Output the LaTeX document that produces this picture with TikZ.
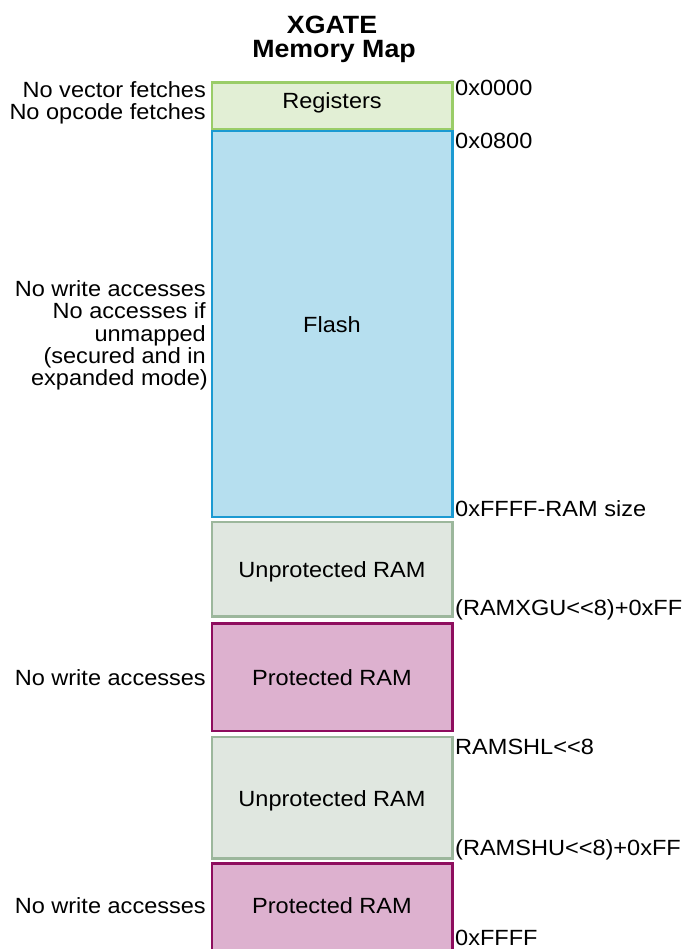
\documentclass[tikz,border=0pt]{standalone}
\usepackage{fontspec}
\setmainfont{Liberation Sans}[FakeStretch=1.07]
\usepackage{tikz}

\definecolor{regfill}{HTML}{E2EFD5}
\definecolor{regdraw}{HTML}{9ACD68}
\definecolor{flashfill}{HTML}{B6DFEF}
\definecolor{flashdraw}{HTML}{1B9AD2}
\definecolor{unpfill}{HTML}{E0E7E0}
\definecolor{unpdraw}{HTML}{9CB79C}
\definecolor{protfill}{HTML}{DDB1CF}
\definecolor{protdraw}{HTML}{8E0D5E}

\begin{document}
\begin{tikzpicture}[x=1pt,y=-1pt,
    lbl/.style={inner sep=0pt,font=\fontsize{22}{24}\selectfont},
    ttl/.style={inner sep=0pt,anchor=base,font=\fontsize{25}{27}\selectfont\bfseries},
    addr/.style={lbl,anchor=base west},
    note/.style={lbl,anchor=base east},
    blk/.style={line width=2.6pt}]
          \useasboundingbox (0,0) rectangle (688,949);

          % Title
          \node[ttl] (title1) at (332,34) {XGATE};
          \node[ttl] (title2) at (334,58) {Memory Map};

          % Memory blocks (top to bottom)
          \filldraw[blk,draw=regdraw,fill=regfill] (212,82.5) rectangle (452.5,129);
          \filldraw[blk,draw=flashdraw,fill=flashfill] (212,131) rectangle (452.5,517);
          \filldraw[blk,draw=unpdraw,fill=unpfill] (212,522) rectangle (452.5,616.5);
          \filldraw[blk,draw=protdraw,fill=protfill] (212,623.5) rectangle (452.5,731);
          \filldraw[blk,draw=unpdraw,fill=unpfill] (212,737) rectangle (452.5,858.5);
          \filldraw[blk,draw=protdraw,fill=protfill] (212,863.5) rectangle (452.5,952);

          \node[lbl,anchor=base] (reg) at (332,109) {Registers};
          \node[lbl,anchor=base] (flash) at (332,332) {Flash};
          \node[lbl,anchor=base] (unp1) at (332,577) {Unprotected RAM};
          \node[lbl,anchor=base] (prot1) at (332,685) {Protected RAM};
          \node[lbl,anchor=base] (unp2) at (332,806) {Unprotected RAM};
          \node[lbl,anchor=base] (prot2) at (332,913) {Protected RAM};

          % Addresses (right)
          \node[addr] (a0) at (455,96) {0x0000};
          \node[addr] (a1) at (455,149) {0x0800};
          \node[addr] (a2) at (455,516) {0xFFFF-RAM size};
          \node[addr] (a3) at (455,615) {(RAMXGU<\kern0pt<8)+0xFF};
          \node[addr] (a4) at (455,754) {RAMSHL<\kern0pt<8};
          \node[addr] (a5) at (455,855) {(RAMSHU<\kern0pt<8)+0xFF};
          \node[addr] (a6) at (455,945.5) {0xFFFF};

          % Access restrictions (left)
          \node[note] (n1) at (206,98) {No vector fetches};
          \node[note] (n2) at (206,120) {No opcode fetches};
          \node[note] (n3) at (206,296) {No write accesses};
          \node[note] (n4) at (206,318.5) {No accesses if};
          \node[note] (n5) at (206,341) {unmapped};
          \node[note] (n6) at (206,363) {(secured and in};
          \node[note] (n7) at (208,385) {expanded mode)};
          \node[note] (n8) at (206,685) {No write accesses};
          \node[note] (n9) at (206,913) {No write accesses};
        \end{tikzpicture}
\end{document}
